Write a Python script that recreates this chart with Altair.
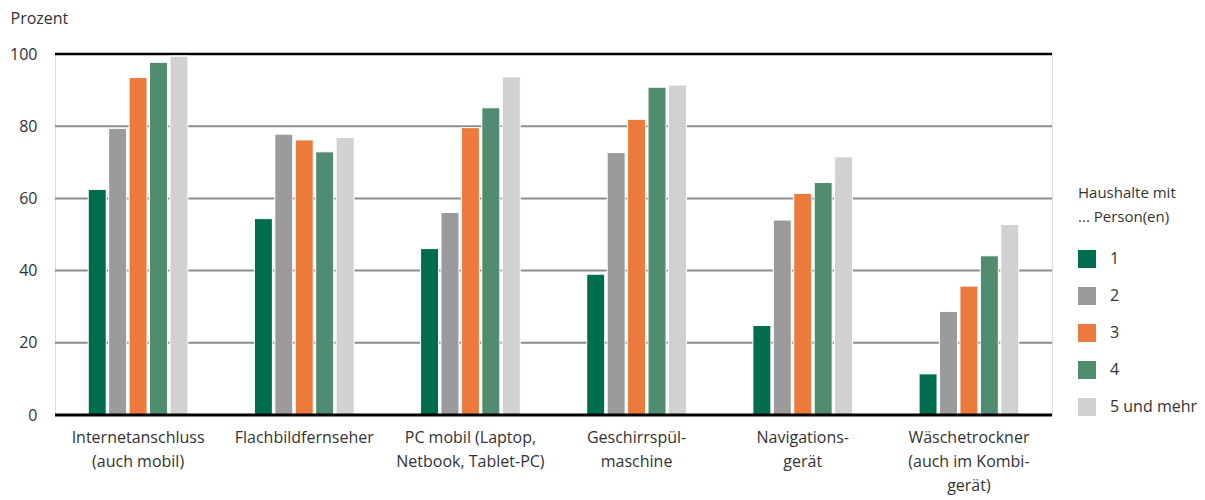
import altair as alt
import pandas as pd

# Geräteausstattung nach Haushaltsgröße (Prozent)
categories = [
    "Internetanschluss (auch mobil)",
    "Flachbildfernseher",
    "PC mobil (Laptop, Netbook, Tablet-PC)",
    "Geschirrspülmaschine",
    "Navigationsgerät",
    "Wäschetrockner (auch im Kombigerät)",
]
category_labels = [
    ["Internetanschluss", "(auch mobil)"],
    ["Flachbildfernseher"],
    ["PC mobil (Laptop,", "Netbook, Tablet-PC)"],
    ["Geschirrspül-", "maschine"],
    ["Navigations-", "gerät"],
    ["Wäschetrockner", "(auch im Kombi-", "gerät)"],
]
groups = ["1", "2", "3", "4", "5 und mehr"]
colors = ["#006e4e", "#9b9b9d", "#ec7a3d", "#508c70", "#d0d1d0"]

values_1 = [62.5, 54.4, 46.1, 39.0, 24.8, 11.4]
values_2 = [79.4, 77.8, 56.1, 72.7, 54.0, 28.7]
values_3 = [93.5, 76.2, 79.6, 81.9, 61.4, 35.7]
values_4 = [97.7, 72.9, 85.1, 90.8, 64.4, 44.1]
values_5 = [99.4, 76.9, 93.7, 91.4, 71.5, 52.8]

grid_values = [20, 40, 60, 80]
frame_values = [100]
base_values = [0]

series = [values_1, values_2, values_3, values_4, values_5]
rows = []
for g, vals in zip(groups, series):
    for c, v in zip(categories, vals):
        rows.append({"kategorie": c, "haushalt": g, "wert": v})
df = pd.DataFrame(rows)

# label expression turning each category into its wrapped lines
label_map = {c: l for c, l in zip(categories, category_labels)}
label_expr = "{" + ", ".join(
    '"%s": [%s]' % (c, ", ".join('"%s"' % s for s in l)) for c, l in label_map.items()
) + "}[datum.value]"

FONT = "Open Sans"
TEXT = "#333333"

y_scale = alt.Scale(domain=[0, 100], nice=False)

bars = alt.Chart(df).mark_bar(stroke="white", strokeWidth=1).encode(
    x=alt.X(
        "kategorie:N",
        sort=categories,
        scale=alt.Scale(paddingInner=0.4, paddingOuter=0.2),
        axis=alt.Axis(
            title=None,
            labelExpr=label_expr,
            labelAngle=0,
            labelFont=FONT,
            labelFontSize=16,
            labelColor=TEXT,
            labelLineHeight=24,
            labelPadding=14,
            labelBaseline="top",
            domain=False,
            ticks=False,
        ),
    ),
    xOffset=alt.XOffset(
        "haushalt:N", sort=groups, scale=alt.Scale(paddingInner=0.12, paddingOuter=0)
    ),
    y=alt.Y(
        "wert:Q",
        scale=y_scale,
        axis=alt.Axis(
            title="Prozent",
            titleAngle=0,
            titleAlign="left",
            titleBaseline="middle",
            titleX=-45,
            titleY=-36,
            titleFont=FONT,
            titleFontSize=16,
            titleFontWeight="normal",
            titleColor=TEXT,
            values=[0, 20, 40, 60, 80, 100],
            labelFont=FONT,
            labelFontSize=16,
            labelColor=TEXT,
            labelPadding=18,
            grid=False,
            domain=False,
            ticks=False,
        ),
    ),
    color=alt.Color(
        "haushalt:N",
        sort=groups,
        scale=alt.Scale(domain=groups, range=colors),
        legend=alt.Legend(
            title=["Haushalte mit", "... Person(en)"],
            orient="none",
            legendX=1023,
            legendY=132,
            titleFont=FONT,
            titleFontSize=15,
            titleFontWeight="normal",
            titleColor=TEXT,
            titleLineHeight=24,
            titlePadding=25,
            labelFont=FONT,
            labelFontSize=16,
            labelColor=TEXT,
            labelOffset=14,
            symbolType="square",
            symbolSize=324,
            symbolStrokeWidth=0,
            rowPadding=19,
        ),
    ),
)

grid = alt.Chart(pd.DataFrame({"y": grid_values})).mark_rule(
    color="#8c8c8c", strokeWidth=2
).encode(y=alt.Y("y:Q", scale=y_scale))

top_line = alt.Chart(pd.DataFrame({"y": frame_values})).mark_rule(
    color="black", strokeWidth=2.5
).encode(y=alt.Y("y:Q", scale=y_scale))

base_line = alt.Chart(pd.DataFrame({"y": base_values})).mark_rule(
    color="black", strokeWidth=3
).encode(y=alt.Y("y:Q", scale=y_scale))

chart = (
    alt.layer(grid, top_line, bars, base_line)
    .properties(
        width=997,
        height=361,
        autosize=alt.AutoSizeParams(type="none"),
        padding={"left": 55, "top": 54, "right": 153, "bottom": 85},
    )
    .configure_view(stroke=None)
    .configure(background="white")
)

chart.save("out.html", embed_options={"renderer": "svg", "actions": False})
